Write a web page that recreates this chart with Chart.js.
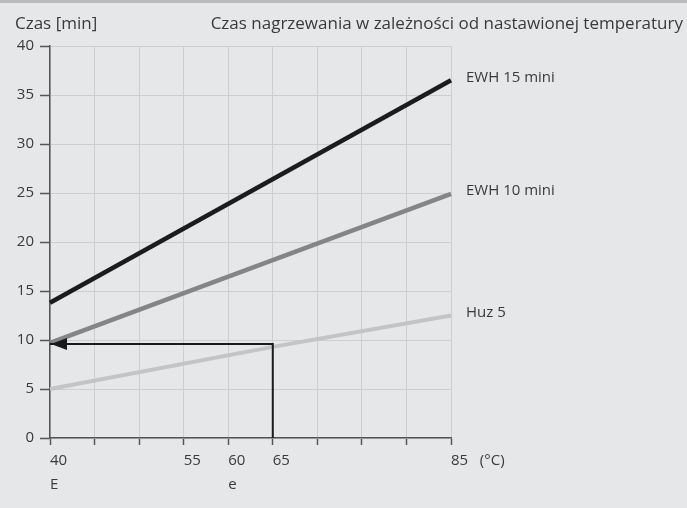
<!DOCTYPE html>
<html>
<head>
<meta charset="utf-8">
<script src="https://cdn.jsdelivr.net/npm/chart.js@4/dist/chart.umd.min.js"></script>
<style>
  html, body { margin: 0; padding: 0; background: #e6e7e8; }
  #wrap { position: relative; width: 687px; height: 508px; }
  #strip { position: absolute; left: 0; top: 0; width: 687px; height: 3px; background: #b9babc; }
</style>
</head>
<body>
<div id="wrap">
  <canvas id="chart" width="687" height="508"></canvas>
  <div id="strip"></div>
</div>
<script>
// temperature (°C) -> heating time (min)
const seriesNames = ['EWH 15 mini', 'EWH 10 mini', 'Huz 5'];
const ewh15 = [{x: 40, y: 13.8}, {x: 85, y: 36.5}];
const ewh10 = [{x: 40, y: 9.7}, {x: 85, y: 24.9}];
const huz5 = [{x: 40, y: 5}, {x: 65, y: 9.3}, {x: 85, y: 12.5}];
// reading example: 65 °C -> ~9.6 min
const readPath = [{x: 65, y: 0}, {x: 65, y: 9.6}, {x: 40, y: 9.6}];

const xTickLabels = {40: ['40', 'E'], 55: ['55'], 60: ['60', 'e'], 65: ['65'], 85: ['85   (°C)']};
const yTitle = 'Czas [min]';
const chartTitle = 'Czas nagrzewania w zależności od nastawionej temperatury';

const FONT = "'Open Sans', sans-serif";
const textColor = '#3a3a3a';

const annotate = {
    id: 'annotate',
    afterDatasetsDraw(chart) {
        const ctx = chart.ctx;
        const xs = chart.scales.x, ys = chart.scales.y;
        ctx.save();

        // arrow head at the end of the reading path
        const tip = readPath[readPath.length - 1];
        const tx = xs.getPixelForValue(tip.x), ty = ys.getPixelForValue(tip.y);
        ctx.fillStyle = '#1a1a1a';
        ctx.beginPath();
        ctx.moveTo(tx + 1, ty);
        ctx.lineTo(tx + 17, ty - 6);
        ctx.lineTo(tx + 17, ty + 6);
        ctx.closePath();
        ctx.fill();

        // series names next to line ends
        ctx.fillStyle = textColor;
        ctx.font = '15px ' + FONT;
        ctx.textAlign = 'left';
        ctx.textBaseline = 'middle';
        chart.data.datasets.forEach(function(ds) {
            if (!seriesNames.includes(ds.label)) return;
            const last = ds.data[ds.data.length - 1];
            ctx.fillText(ds.label, xs.getPixelForValue(last.x) + 15, ys.getPixelForValue(last.y) - 3);
        });

        // titles
        ctx.font = '17px ' + FONT;
        ctx.textBaseline = 'alphabetic';
        ctx.fillText(yTitle, 15, 29);
        ctx.textAlign = 'right';
        ctx.fillText(chartTitle, 683, 29);
        ctx.restore();
    }
};

new Chart(document.getElementById('chart'), {
    type: 'line',
    data: {
        datasets: [
            {label: 'odczyt', data: readPath, borderColor: '#1a1a1a', borderWidth: 2, order: 0},
            {label: seriesNames[0], data: ewh15, borderColor: '#1c1c1c', borderWidth: 4.5, order: 1},
            {label: seriesNames[1], data: ewh10, borderColor: '#858585', borderWidth: 4.5, order: 2},
            {label: seriesNames[2], data: huz5, borderColor: '#c3c4c5', borderWidth: 4, order: 3}
        ]
    },
    options: {
        responsive: false,
        animation: false,
        clip: false,
        elements: {point: {radius: 0}, line: {tension: 0}},
        layout: {padding: {top: 46, right: 236, left: 0, bottom: 0}},
        plugins: {legend: {display: false}, tooltip: {enabled: false}},
        scales: {
            x: {
                type: 'linear',
                min: 40,
                max: 85,
                afterFit: function(s) { s.height = 70; },
                grid: {color: '#cdced0', lineWidth: 1, tickColor: '#555', tickWidth: 1.5, tickLength: 7},
                border: {color: '#555', width: 1.5},
                ticks: {
                    stepSize: 5,
                    autoSkip: false,
                    maxRotation: 0,
                    align: 'start',
                    padding: 3,
                    color: textColor,
                    font: {family: FONT, size: 15, lineHeight: 1.65},
                    callback: function(v) { return xTickLabels[v] || ''; }
                }
            },
            y: {
                min: 0,
                max: 40,
                afterFit: function(s) { s.width = 50; },
                grid: {color: '#cdced0', lineWidth: 1, tickColor: '#555', tickWidth: 1.5, tickLength: 10},
                border: {color: '#555', width: 1.5},
                ticks: {
                    stepSize: 5,
                    padding: 6,
                    color: textColor,
                    font: {family: FONT, size: 15}
                }
            }
        }
    },
    plugins: [annotate]
});
</script>
</body>
</html>
